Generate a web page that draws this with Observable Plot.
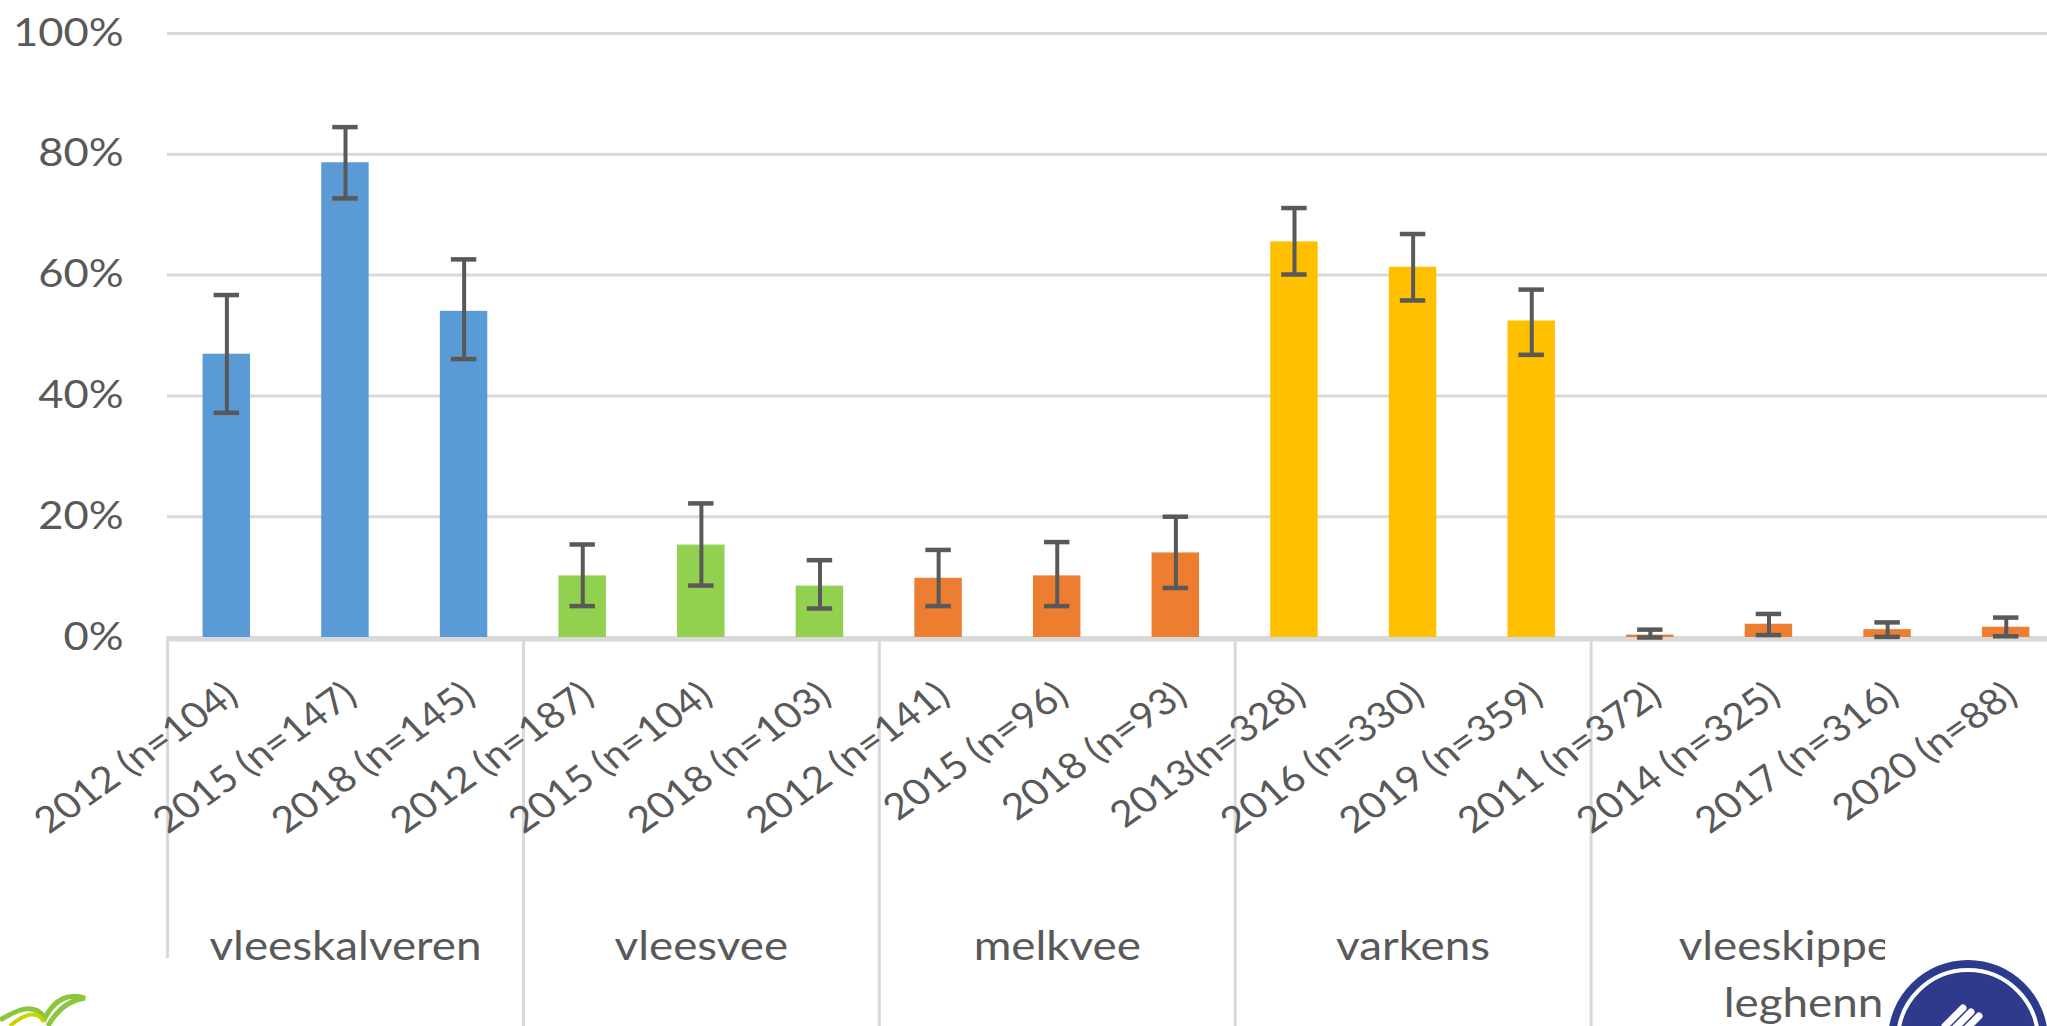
<!DOCTYPE html>
<html>
<head>
<meta charset="utf-8">
<script src="https://cdn.jsdelivr.net/npm/d3@7"></script>
<script src="https://cdn.jsdelivr.net/npm/@observablehq/plot@0.6"></script>
<style>
html, body { margin: 0; padding: 0; background: #ffffff; overflow: hidden; width: 2047px; height: 1026px; }
#wrap { position: relative; width: 2047px; height: 1026px; overflow: hidden; }
#chart { position: absolute; left: 0; top: 0; }
.deco { position: absolute; }
</style>
</head>
<body>
<div id="wrap">
  <div id="chart"></div>
  <svg class="deco" style="left:0;top:958px" width="200" height="68" viewBox="0 0 200 68">
    <rect x="0" y="0" width="200" height="68" fill="#ffffff"/>
    <path d="M0,62 C20,50 35,45 45,60 C55,40 70,35 85,40 C70,42 58,50 48,68" fill="none" stroke="#8cc63f" stroke-width="5"/>
    <path d="M10,68 C25,55 38,52 44,64" fill="none" stroke="#c8d400" stroke-width="4"/>
  </svg>
  <svg class="deco" style="left:1885px;top:930px" width="162" height="96" viewBox="0 0 162 96">
    <rect x="0" y="0" width="162" height="96" fill="#ffffff"/>
    <circle cx="83" cy="110" r="80" fill="#2e3a8c"/>
    <circle cx="83" cy="110" r="70" fill="none" stroke="#ffffff" stroke-width="4"/>
    <path d="M60,96 L78,78 M68,100 L86,82 M76,104 L94,86" stroke="#ffffff" stroke-width="7" stroke-linecap="round"/>
  </svg>
</div>
<script>
// ---- data ----
const groups = ["vleeskalveren", "vleesvee", "melkvee", "varkens", "vleeskippen en\nleghennen"];
const groupSizes = [3, 3, 3, 3, 4];
const groupColors = ["#5B9BD5", "#92D050", "#ED7D31", "#FFC000", "#ED7D31"];
const categories = [
  "2012 (n=104)", "2015 (n=147)", "2018 (n=145)",
  "2012 (n=187)", "2015 (n=104)", "2018 (n=103)",
  "2012 (n=141)", "2015 (n=96)", "2018 (n=93)",
  "2013(n=328)", "2016 (n=330)", "2019 (n=359)",
  "2011 (n=372)", "2014 (n=325)", "2017 (n=316)", "2020 (n=88)"
];
const values = [0.469, 0.786, 0.540, 0.102, 0.153, 0.085, 0.098, 0.102, 0.140, 0.655, 0.613, 0.524, 0.004, 0.022, 0.013, 0.017];
const lower  = [0.372, 0.727, 0.461, 0.052, 0.086, 0.048, 0.052, 0.052, 0.082, 0.601, 0.558, 0.468, 0.000, 0.004, 0.001, 0.002];
const upper  = [0.567, 0.845, 0.626, 0.154, 0.222, 0.128, 0.145, 0.158, 0.200, 0.711, 0.668, 0.576, 0.013, 0.039, 0.025, 0.033];
const yTicks = [0, 0.2, 0.4, 0.6, 0.8, 1.0];

// ---- layout (the reference image is slightly stretched horizontally) ----
const sx = 1.145;                 // horizontal stretch of the picture
const Wout = 2065, H = 1026;      // output size (right part runs off the page)
const W = Wout / sx;              // Plot's own coordinate width
const mL = 167 / sx, mT = 33, mB = 389, mR = 0;
const step = (W - mL - mR) / categories.length;
const plotH = H - mT - mB;
const yBottom = -mB / plotH;
const ink = "#595959";
const gridColor = "#d9d9d9";
const fs = 40;
const fsTick = 36;
const fsY = 38;

// ---- rows ----
const rows = [];
let idx = 0;
groups.forEach((g, gi) => {
  for (let k = 0; k < groupSizes[gi]; k++) {
    rows.push({key: idx, label: categories[idx], group: g, color: groupColors[gi], v: values[idx], lo: lower[idx], hi: upper[idx]});
    idx++;
  }
});
const groupRows = [];
let start = 0;
groups.forEach((g, gi) => {
  groupRows.push({group: g, first: start, size: groupSizes[gi]});
  start += groupSizes[gi];
});
const oddGroups = groupRows.filter(g => g.size % 2 === 1);
const evenGroups = groupRows.filter(g => g.size % 2 === 0);

const chart = Plot.plot({
  width: W,
  height: H,
  marginLeft: mL,
  marginRight: mR,
  marginTop: mT,
  marginBottom: mB,
  style: {fontFamily: "Lato, 'Open Sans', sans-serif", fontSize: fs + "px", color: ink, background: "#ffffff", overflow: "visible", maxWidth: "none"},
  x: {type: "band", domain: rows.map(r => r.key), paddingInner: 0.6, paddingOuter: 0.3, round: false, axis: null},
  y: {domain: [0, 1], axis: null},
  color: {type: "identity"},
  marks: [
    Plot.gridY(yTicks, {stroke: gridColor, strokeOpacity: 1, strokeWidth: 3}),
    Plot.axisY(yTicks, {tickFormat: d3.format(".0%"), tickSize: 0, tickPadding: 44 / sx, fontSize: fsY, fill: ink, label: null}),
    Plot.barY(rows, {x: "key", y: "v", fill: "color"}),
    Plot.ruleY([0], {stroke: gridColor, strokeWidth: 4, dy: 2}),
    Plot.ruleX(groupRows, {x: "first", y1: 0, y2: yBottom, dx: -step / 2, stroke: gridColor, strokeWidth: 3 / sx}),
    Plot.ruleX(rows, {x: "key", y1: "lo", y2: "hi", stroke: ink, strokeWidth: 4 / sx}),
    Plot.tickY(rows, {x: "key", y: "lo", stroke: ink, strokeWidth: 4.5, insetLeft: 11 / sx, insetRight: 11 / sx}),
    Plot.tickY(rows, {x: "key", y: "hi", stroke: ink, strokeWidth: 4.5, insetLeft: 11 / sx, insetRight: 11 / sx}),
    Plot.text(rows, {x: "key", y: 0, text: "label", rotate: -39, textAnchor: "end", lineAnchor: "top", dx: -5 / sx, dy: 42, fontSize: fsTick, fill: ink}),
    Plot.text(oddGroups, {x: g => g.first + (g.size - 1) / 2, y: 0, text: "group", lineAnchor: "top", dy: 282, lineHeight: 1.42, fontSize: fs, fill: ink}),
    Plot.text(evenGroups, {x: g => g.first + g.size / 2 - 1, y: 0, text: "group", lineAnchor: "top", dx: step / 2, dy: 282, lineHeight: 1.42, fontSize: fs, fill: ink})
  ]
});
chart.setAttribute("viewBox", `0 0 ${W} ${H}`);
chart.setAttribute("preserveAspectRatio", "none");
chart.setAttribute("width", Wout);
chart.setAttribute("height", H);
chart.style.width = Wout + "px";
chart.style.height = H + "px";
chart.style.maxWidth = "none";
document.getElementById("chart").appendChild(chart);
</script>
</body>
</html>
